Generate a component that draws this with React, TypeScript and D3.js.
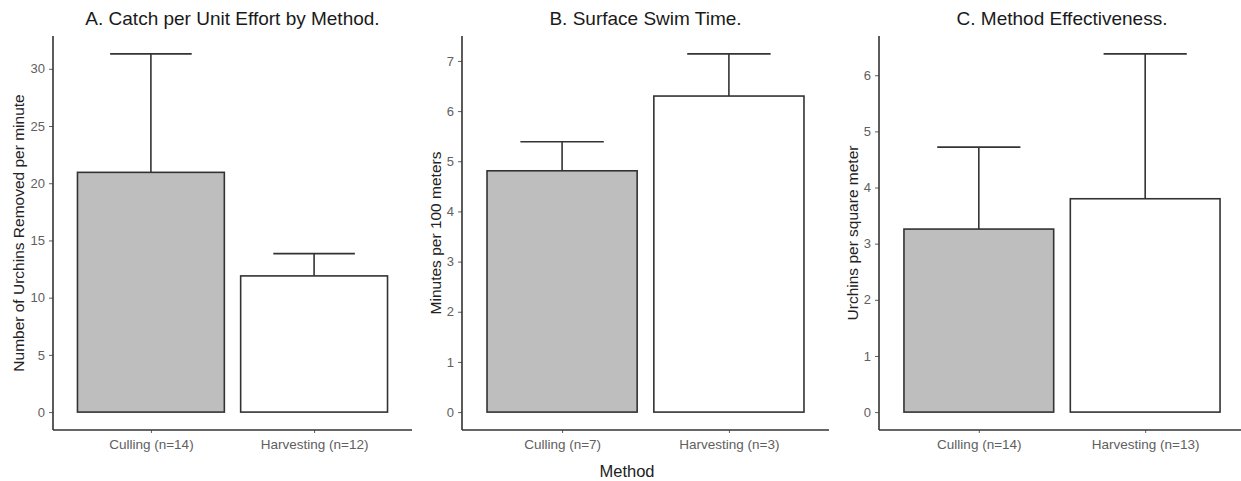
import React, { useEffect, useRef } from 'react'
import * as d3 from 'd3'

// shared categories
const methods = ['Culling', 'Harvesting']
const fills = ['#bebebe', '#ffffff']

// panel A: catch per unit effort
const cpueN = [14, 12]
const cpueMean = [20.95, 11.9]
const cpueErr = [10.35, 1.95]
const cpueTicks = [0, 5, 10, 15, 20, 25, 30]

// panel B: surface swim time
const swimN = [7, 3]
const swimMean = [4.81, 6.3]
const swimErr = [0.58, 0.84]
const swimTicks = [0, 1, 2, 3, 4, 5, 6, 7]

// panel C: method effectiveness
const effN = [14, 13]
const effMean = [3.26, 3.8]
const effErr = [1.46, 2.58]
const effTicks = [0, 1, 2, 3, 4, 5, 6]

const titles = [
    'A. Catch per Unit Effort by Method.',
    'B. Surface Swim Time.',
    'C. Method Effectiveness.'
]
const yTitles = [
    'Number of Urchins Removed per minute',
    'Minutes per 100 meters',
    'Urchins per square meter'
]
const xTitle = 'Method'

const App = () => {
    const ref = useRef<SVGSVGElement>(null)

    useEffect(() => {
        drawChart()
    }, [])

    const drawChart = () => {
        const width = 1241
        const height = 481
        const top = 36
        const bottom = 430
        const font = "'Liberation Sans', Arial, sans-serif"
        const axisColor = '#333'
        const tickColor = '#606060'

        const panels = [
            { left: 53, right: 412, n: cpueN, mean: cpueMean, err: cpueErr, ticks: cpueTicks, yOff: 34 },
            { left: 462, right: 829, n: swimN, mean: swimMean, err: swimErr, ticks: swimTicks, yOff: 26 },
            { left: 879, right: 1245, n: effN, mean: effMean, err: effErr, ticks: effTicks, yOff: 26 }
        ]

        const svg = d3.select(ref.current)
        svg.selectAll('*').remove()
        svg.attr('width', width).attr('height', height)

        svg.append('rect').attr('width', width).attr('height', height).attr('fill', '#fff')

        panels.forEach((p, pi) => {
            const labels = methods.map((m, i) => `${m} (n=${p.n[i]})`)
            const rows = labels.map((l, i) => ({ label: l, mean: p.mean[i], err: p.err[i], fill: fills[i] }))
            const maxV = d3.max(rows, d => d.mean + d.err) as number
            const pad = maxV * 0.05

            const x = d3.scalePoint<string>()
                .domain(labels)
                .range([p.left, p.right])
                .padding(0.6)
            const step = x.step()
            const y = d3.scaleLinear()
                .domain([-pad, maxV + pad])
                .range([bottom, top])

            const g = svg.append('g')

            // error bars (upper half only, like the reference)
            g.selectAll('line.whisker')
                .data(rows)
                .enter()
                .append('line')
                .attr('x1', d => x(d.label) as number)
                .attr('x2', d => x(d.label) as number)
                .attr('y1', d => y(d.mean))
                .attr('y2', d => y(d.mean + d.err))
                .attr('stroke', axisColor)
                .attr('stroke-width', 1.6)
            g.selectAll('line.cap')
                .data(rows)
                .enter()
                .append('line')
                .attr('x1', d => (x(d.label) as number) - step * 0.25)
                .attr('x2', d => (x(d.label) as number) + step * 0.25)
                .attr('y1', d => y(d.mean + d.err))
                .attr('y2', d => y(d.mean + d.err))
                .attr('stroke', axisColor)
                .attr('stroke-width', 1.6)

            g.selectAll('rect.bar')
                .data(rows)
                .enter()
                .append('rect')
                .attr('x', d => (x(d.label) as number) - step * 0.45)
                .attr('width', step * 0.9)
                .attr('y', d => y(d.mean))
                .attr('height', d => y(0) - y(d.mean))
                .attr('fill', d => d.fill)
                .attr('stroke', axisColor)
                .attr('stroke-width', 1.6)

            // y axis
            const yAxis = g.append('g')
                .attr('transform', `translate(${p.left}, 0)`)
                .call(d3.axisLeft(y).tickValues(p.ticks).tickSize(4).tickPadding(4).tickFormat(d3.format('d')))
            yAxis.select('.domain').remove()
            yAxis.selectAll('.tick line').attr('stroke', tickColor)
            yAxis.selectAll('.tick text')
                .attr('fill', tickColor)
                .style('font-family', font)
                .style('font-size', '13px')
            g.append('line')
                .attr('x1', p.left).attr('x2', p.left)
                .attr('y1', top).attr('y2', bottom)
                .attr('stroke', axisColor)
                .attr('stroke-width', 1.6)

            // x axis
            const xAxis = g.append('g')
                .attr('transform', `translate(0, ${bottom})`)
                .call(d3.axisBottom(x).tickSize(3).tickPadding(6))
            xAxis.select('.domain').remove()
            xAxis.selectAll('.tick line').attr('stroke', tickColor)
            xAxis.selectAll('.tick text')
                .attr('fill', tickColor)
                .style('font-family', font)
                .style('font-size', '13.5px')
            g.append('line')
                .attr('x1', p.left).attr('x2', p.right)
                .attr('y1', bottom).attr('y2', bottom)
                .attr('stroke', axisColor)
                .attr('stroke-width', 1.6)

            // titles
            g.append('text')
                .attr('x', (p.left + p.right) / 2)
                .attr('y', 25)
                .attr('text-anchor', 'middle')
                .attr('fill', '#1a1a1a')
                .style('font-family', font)
                .style('font-size', '19px')
                .text(titles[pi])

            g.append('text')
                .attr('transform', `translate(${p.left - p.yOff}, ${(top + bottom) / 2}) rotate(-90)`)
                .attr('text-anchor', 'middle')
                .attr('dy', '0.35em')
                .attr('fill', '#222')
                .style('font-family', font)
                .style('font-size', '15.5px')
                .text(yTitles[pi])
        })

        svg.append('text')
            .attr('x', 627)
            .attr('y', 477)
            .attr('text-anchor', 'middle')
            .attr('fill', '#222')
            .style('font-family', font)
            .style('font-size', '16.5px')
            .text(xTitle)
    }

    return (
        <svg ref={ref} style={{ position: 'absolute', left: 0, top: 0, display: 'block' }}></svg>
    )
}

export default App
